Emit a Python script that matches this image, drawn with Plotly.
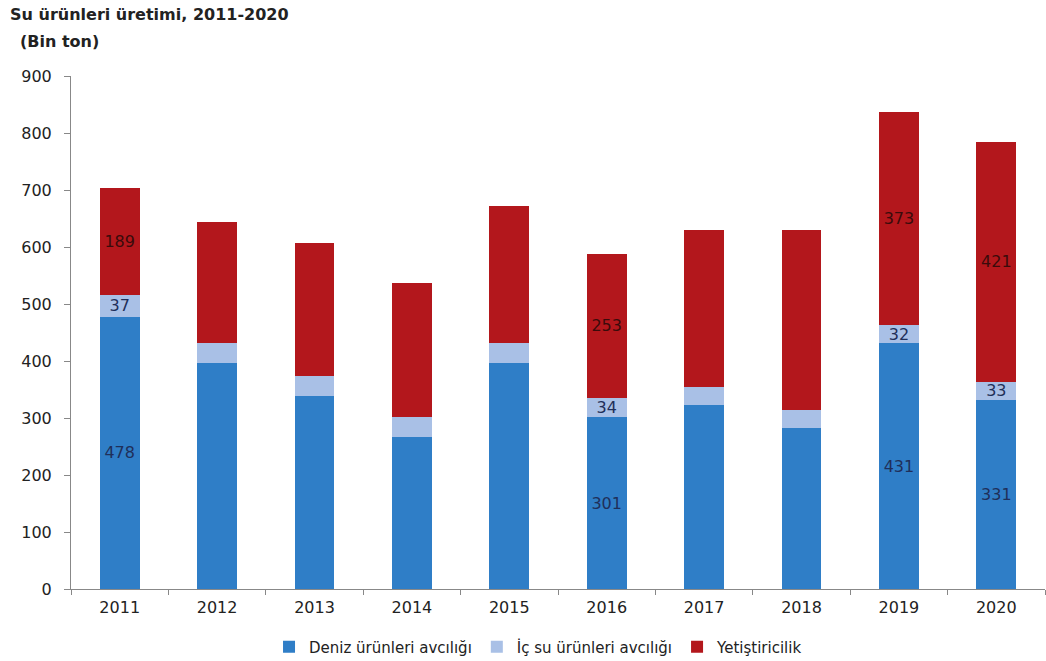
import plotly.graph_objects as go

years = ["2011", "2012", "2013", "2014", "2015", "2016", "2017", "2018", "2019", "2020"]
deniz = [478, 396, 339, 266, 397, 301, 322, 283, 431, 331]
icsu = [37, 36, 35, 36, 34, 34, 32, 31, 32, 33]
yetis = [189, 212, 233, 235, 241, 253, 276, 315, 373, 421]
labeled_years = ["2011", "2016", "2019", "2020"]

def labels(vals):
    return [str(v) if y in labeled_years else "" for y, v in zip(years, vals)]

font_family = "DejaVu Sans, Liberation Sans, Arial, sans-serif"
label_font = dict(size=16, family=font_family)

fig = go.Figure()
fig.add_trace(go.Bar(x=years, y=deniz, name="Deniz ürünleri avcılığı",
                     marker=dict(color="#2F7EC7", line=dict(width=0)),
                     text=labels(deniz), textposition="inside", insidetextanchor="middle",
                     textfont=dict(color="#1F2F5A", **label_font)))
fig.add_trace(go.Bar(x=years, y=icsu, name="İç su ürünleri avcılığı",
                     marker=dict(color="#A9C0E6", line=dict(width=0)),
                     text=labels(icsu), textposition="inside", insidetextanchor="middle",
                     textfont=dict(color="#1F2F5A", **label_font)))
fig.add_trace(go.Bar(x=years, y=yetis, name="Yetiştiricilik",
                     marker=dict(color="#B3171C", line=dict(width=0)),
                     text=labels(yetis), textposition="inside", insidetextanchor="middle",
                     textfont=dict(color="#3A0B0B", **label_font)))

fig.update_layout(
    barmode="stack",
    bargap=0.59,
    width=1046, height=661,
    margin=dict(l=71, r=1, t=76, b=72, autoexpand=False),
    plot_bgcolor="white", paper_bgcolor="white",
    font=dict(family=font_family, size=15, color="#222"),
    uniformtext=dict(mode="show", minsize=16),
    legend=dict(orientation="h", x=0.48, xanchor="center", yref="container",
                y=0.021, yanchor="middle",
                font=dict(size=15, color="#222"), traceorder="normal",
                itemwidth=30, itemsizing="constant"),
    xaxis=dict(showline=True, linecolor="#888", linewidth=1, ticks="outside",
               tickson="boundaries", ticklen=5, tickcolor="#888",
               ticklabelstandoff=4,
               tickfont=dict(size=16, color="#222")),
    yaxis=dict(range=[0, 900], dtick=100, showgrid=False, showline=True,
               linecolor="#888", linewidth=1, ticks="outside", ticklen=6,
               tickcolor="#888", ticklabelstandoff=9,
               tickfont=dict(size=16, color="#222"), zeroline=False),
    annotations=[
        dict(text="<b>Su ürünleri üretimi, 2011-2020</b>", x=0, y=1, xref="paper", yref="paper",
             xanchor="left", yanchor="top", showarrow=False, xshift=-63, yshift=76 - 3,
             font=dict(size=16, color="#222")),
        dict(text="<b>(Bin ton)</b>", x=0, y=1, xref="paper", yref="paper",
             xanchor="left", yanchor="top", showarrow=False, xshift=-53, yshift=76 - 30,
             font=dict(size=16, color="#222")),
    ],
)

fig.write_html("out.html")
